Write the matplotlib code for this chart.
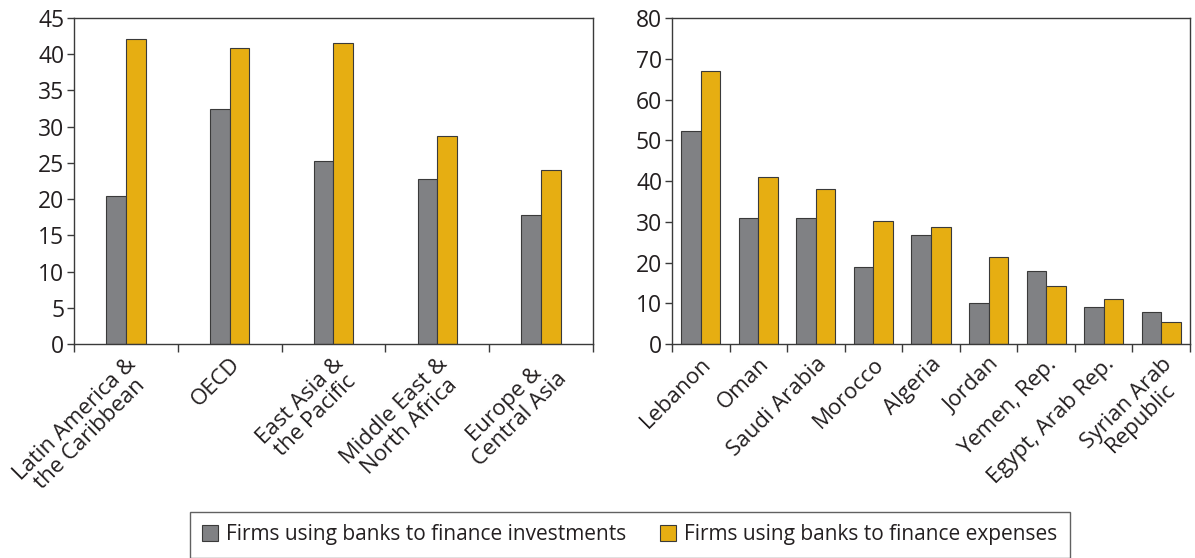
import matplotlib
matplotlib.use("Agg")
import matplotlib.pyplot as plt
import numpy as np

plt.rcParams["font.family"] = ["Open Sans", "DejaVu Sans"]

# left panel: regions
regions = ["Latin America &\nthe Caribbean", "OECD", "East Asia &\nthe Pacific",
           "Middle East &\nNorth Africa", "Europe &\nCentral Asia"]
reg_invest = [20.4, 32.4, 25.3, 22.8, 17.8]
reg_expense = [42.1, 40.9, 41.5, 28.7, 24.0]

# right panel: countries
countries = ["Lebanon", "Oman", "Saudi Arabia", "Morocco", "Algeria", "Jordan",
             "Yemen, Rep.", "Egypt, Arab Rep.", "Syrian Arab\nRepublic"]
cty_invest = [52.2, 30.9, 30.9, 19.0, 26.7, 10.1, 18.0, 9.2, 7.8]
cty_expense = [67.1, 41.1, 38.0, 30.1, 28.6, 21.3, 14.3, 11.0, 5.5]

GRAY = "#808184"
GOLD = "#E6AE12"
EDGE = "#3a3a3a"

fig = plt.figure(figsize=(11.95, 5.58), dpi=100)
ax1 = fig.add_axes([0.0619, 0.3835, 0.4343, 0.5842])
ax2 = fig.add_axes([0.5623, 0.3835, 0.4335, 0.5842])


def draw(ax, labels, inv, exp, width, ymax, ystep):
    x = np.arange(len(labels))
    b1 = ax.bar(x - width / 2, inv, width, color=GRAY, edgecolor=EDGE, linewidth=0.8)
    b2 = ax.bar(x + width / 2, exp, width, color=GOLD, edgecolor=EDGE, linewidth=0.8)
    ax.set_xlim(-0.5, len(labels) - 0.5)
    ax.set_ylim(0, ymax)
    ax.set_yticks(np.arange(0, ymax + 1, ystep))
    ax.set_xticks(x)
    ax.set_xticklabels(labels, rotation=45, ha="right", rotation_mode="anchor",
                       multialignment="center", fontsize=16, color="#231f20",
                       linespacing=1.0)
    # separators between categories
    ax.set_xticks(np.arange(-0.5, len(labels)), minor=True)
    ax.tick_params(axis="x", which="major", length=0, pad=7)
    ax.tick_params(axis="x", which="minor", length=6, width=1, color=EDGE)
    ax.tick_params(axis="y", length=5, width=1, color=EDGE, labelsize=16.5,
                   labelcolor="#231f20", pad=2)
    for s in ax.spines.values():
        s.set_color(EDGE)
        s.set_linewidth(1)
    return b1, b2


b1, b2 = draw(ax1, regions, reg_invest, reg_expense, 0.19, 45, 5)
draw(ax2, countries, cty_invest, cty_expense, 0.34, 80, 10)

leg = fig.legend([b1, b2], ["Firms using banks to finance investments",
                            "Firms using banks to finance expenses"],
                 loc="upper center", bbox_to_anchor=(0.527, 0.083), ncol=2,
                 frameon=True, fancybox=False, edgecolor=EDGE, fontsize=15,
                 handlelength=0.75, handleheight=0.75, handletextpad=0.4,
                 columnspacing=1.6, borderpad=0.6, borderaxespad=0)
leg.get_frame().set_linewidth(1)
for t in leg.get_texts():
    t.set_color("#231f20")

fig.savefig("out.png", dpi=100)
